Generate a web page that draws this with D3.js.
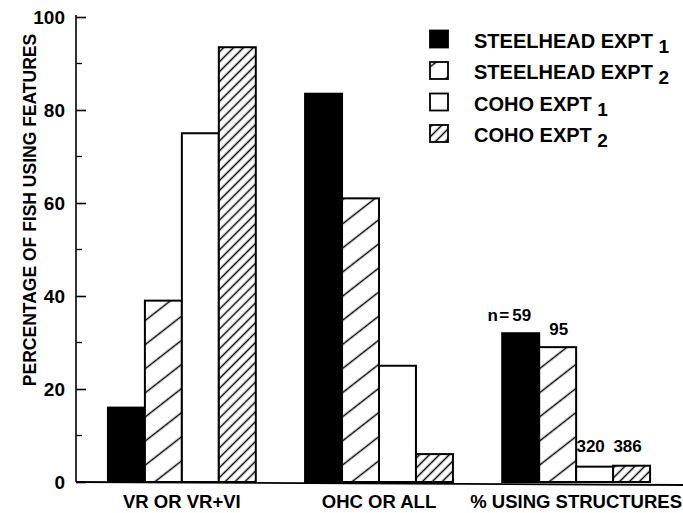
<!DOCTYPE html>
<html>
<head>
<meta charset="utf-8">
<script src="https://cdn.jsdelivr.net/npm/d3@7"></script>
<style>
  body { margin: 0; background: #fff; }
  text { font-family: "Liberation Sans", Arial, Helvetica, sans-serif; font-weight: bold; fill: #000; }
</style>
</head>
<body>
<div id="chart"></div>
<script>
//--------------------------------------------------
// Datos
//--------------------------------------------------
const categories = ["VR OR VR+VI", "OHC OR ALL", "% USING STRUCTURES"];
const series     = ["STEELHEAD EXPT 1", "STEELHEAD EXPT 2", "COHO EXPT 1", "COHO EXPT 2"];
const steelhead1 = [16, 83.5, 32];
const steelhead2 = [39, 61, 29];
const coho1      = [75, 25, 3.3];
const coho2      = [93.5, 6, 3.5];
const sampleN    = ["59", "95", "320", "386"]; // sobre "% USING STRUCTURES"
const yTicks     = [0, 20, 40, 60, 80, 100];

const values = [steelhead1, steelhead2, coho1, coho2];

//--------------------------------------------------
// Estilo
//--------------------------------------------------
const W = 683, H = 513;
const fills = ["#000", "url(#hatchWide)", "#fff", "url(#hatchDense)"];

const svg = d3.select("#chart").append("svg")
  .attr("width", W)
  .attr("height", H);

const defs = svg.append("defs");
function hatch(id, gap, angle) {
  const p = defs.append("pattern")
    .attr("id", id)
    .attr("patternUnits", "userSpaceOnUse")
    .attr("width", 10)
    .attr("height", gap)
    .attr("patternTransform", `rotate(${-angle})`);
  p.append("rect").attr("width", 10).attr("height", gap).attr("fill", "#fff");
  p.append("line")
    .attr("x1", 0).attr("x2", 10)
    .attr("y1", gap / 2).attr("y2", gap / 2)
    .attr("stroke", "#000").attr("stroke-width", 1.5);
}
hatch("hatchWide", 19, 38);
hatch("hatchDense", 7, 45);

//--------------------------------------------------
// Escalas
//--------------------------------------------------
const y = d3.scaleLinear().domain([0, 100]).range([482, 17]);

const x0 = d3.scaleBand()
  .domain(categories)
  .range([76, 682])
  .paddingInner(0.25)
  .paddingOuter(0.162);

const x1 = d3.scaleBand()
  .domain(series)
  .range([0, x0.bandwidth()]);

//--------------------------------------------------
// Ejes
//--------------------------------------------------
const yAxis = svg.append("g")
  .attr("transform", "translate(76,0)")
  .call(d3.axisLeft(y)
    .tickValues(yTicks)
    .tickSizeInner(-10)
    .tickSizeOuter(0)
    .tickPadding(11));
yAxis.select(".domain").attr("stroke-width", 1.6).attr("d", `M0,${y(0)}V15`);
yAxis.selectAll(".tick line").attr("stroke-width", 1.6);
yAxis.selectAll(".tick text")
  .style("font-size", "19px")
  .style("font-family", "'Liberation Sans', Arial, sans-serif")
  .style("font-weight", "bold");

// marcas menores cada 10
svg.append("g")
  .selectAll("line")
  .data(d3.range(10, 100, 20))
  .enter()
  .append("line")
  .attr("x1", 76).attr("x2", 82)
  .attr("y1", d => y(d)).attr("y2", d => y(d))
  .attr("stroke", "#000").attr("stroke-width", 1.3);

// línea base
svg.append("line")
  .attr("x1", 76).attr("x2", 683)
  .attr("y1", y(0)).attr("y2", y(0) + 3)
  .attr("stroke", "#000").attr("stroke-width", 1.8);

svg.append("text")
  .attr("transform", "translate(36,210) rotate(-90)")
  .attr("text-anchor", "middle")
  .attr("font-size", 17.5)
  .text("PERCENTAGE OF FISH USING FEATURES");

svg.append("g")
  .selectAll("text")
  .data(categories)
  .enter()
  .append("text")
  .attr("x", d => x0(d) + x0.bandwidth() / 2)
  .attr("y", 508)
  .attr("text-anchor", "middle")
  .attr("font-size", 18.5)
  .text(d => d);

//--------------------------------------------------
// Barras
//--------------------------------------------------
const grp = svg.append("g")
  .selectAll("g")
  .data(categories)
  .enter()
  .append("g")
  .attr("transform", d => `translate(${x0(d)},0)`);

grp.selectAll("rect")
  .data((c, ci) => series.map((s, si) => ({ s, si, v: values[si][ci] })))
  .enter()
  .append("rect")
  .attr("x", d => x1(d.s))
  .attr("y", d => y(d.v))
  .attr("width", x1.bandwidth())
  .attr("height", d => y(0) - y(d.v))
  .attr("fill", d => fills[d.si])
  .attr("stroke", "#000")
  .attr("stroke-width", 2);

// n sobre la tercera categoría
const last = categories[2];
svg.append("g")
  .selectAll("text")
  .data(sampleN)
  .enter()
  .append("text")
  .attr("x", (d, i) => x0(last) + x1(series[i]) + x1.bandwidth() / 2 + (i >= 2 ? -4 : 1))
  .attr("y", (d, i) => i < 2 ? y(values[i][2]) - 12 : y(3.5) - 14)
  .attr("text-anchor", "middle")
  .attr("font-size", 17)
  .text(d => d);

svg.append("text")
  .attr("x", x0(last) + x1(series[0]) + x1.bandwidth() / 2 - 10)
  .attr("y", y(values[0][2]) - 12)
  .attr("text-anchor", "end")
  .attr("font-size", 17)
  .attr("letter-spacing", 1.5)
  .text("n=");

//--------------------------------------------------
// Leyenda
//--------------------------------------------------
const leg = svg.append("g")
  .selectAll("g")
  .data(series)
  .enter()
  .append("g")
  .attr("transform", (d, i) => `translate(430,${47.5 + i * 31.5})`);

leg.append("rect")
  .attr("y", -17)
  .attr("width", 18).attr("height", 17)
  .attr("fill", (d, i) => fills[i])
  .attr("stroke", "#000")
  .attr("stroke-width", 1.8);

const lt = leg.append("text")
  .attr("x", 44)
  .attr("y", 0)
  .attr("font-size", 20);
lt.append("tspan").text(d => d.slice(0, -1));
lt.append("tspan").attr("dy", 5).attr("font-size", 19).text(d => d.slice(-1));
</script>
</body>
</html>
